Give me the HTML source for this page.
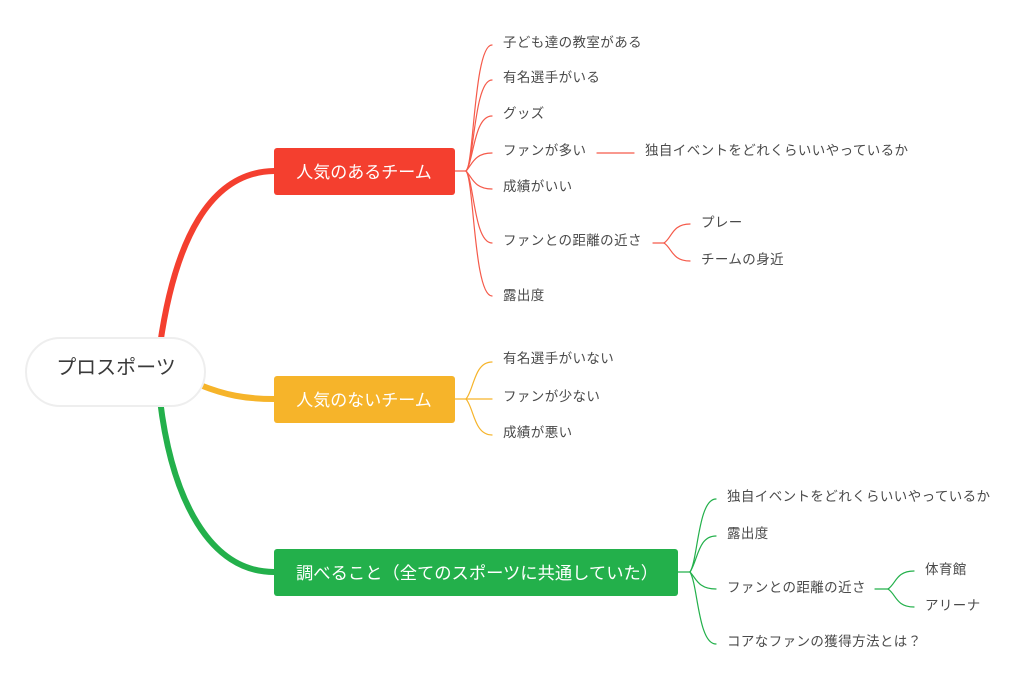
<!DOCTYPE html>
<html><head><meta charset="utf-8"><style>
body{margin:0;background:#fff;}
svg text{font-family:"Liberation Sans","Noto Sans CJK JP",sans-serif;}
</style></head><body>
<svg width="1024" height="690" viewBox="0 0 1024 690" xmlns="http://www.w3.org/2000/svg">
<g fill="none" stroke-linecap="round">
<path d="M160 345 C175 240 210 172 274 171" stroke="#f43f2f" stroke-width="6"/>
<path d="M200 385 C225 395 245 399 274 399" stroke="#f6b42a" stroke-width="6"/>
<path d="M160 400 C172 500 210 572 274 572" stroke="#23b04b" stroke-width="6"/>
<g stroke="#f55a4a" stroke-width="1.2">
<path d="M455 171 H466"/>
<path d="M466 171 C474 165 474 45 492 45"/>
<path d="M466 171 C474 165 474 80 492 80"/>
<path d="M466 171 C474 160 474 116 492 116"/>
<path d="M466 171 C472 165 474 153 492 153"/>
<path d="M466 171 C472 177 474 189 492 189"/>
<path d="M466 171 C474 180 474 243 492 243"/>
<path d="M466 171 C474 180 474 296 492 296"/>
<path d="M597 153 H634"/>
<path d="M653 243 H664"/>
<path d="M664 243 C672 238 672 224 690 224"/>
<path d="M664 243 C672 248 672 261 690 261"/>
</g>
<g stroke="#f6b42a" stroke-width="1.2">
<path d="M455 399 H466"/>
<path d="M466 399 C474 390 474 362 492 362"/>
<path d="M466 399 H492"/>
<path d="M466 399 C474 408 474 435 492 435"/>
</g>
<g stroke="#23b04b" stroke-width="1.2">
<path d="M678 572 H690"/>
<path d="M690 572 C698 560 698 499 716 499"/>
<path d="M690 572 C698 560 698 536 716 536"/>
<path d="M690 572 C696 578 698 589 716 589"/>
<path d="M690 572 C698 585 698 644 716 644"/>
<path d="M875 589 H888"/>
<path d="M888 589 C896 584 896 571 914 571"/>
<path d="M888 589 C896 594 896 607 914 607"/>
</g>
</g>
<rect x="26" y="338" width="179" height="68" rx="34" fill="#fff" stroke="#eeeeee" stroke-width="2"/>
<text x="116" y="374" font-size="20" fill="#3a3a3a" text-anchor="middle">プロスポーツ</text>
<rect x="274" y="148" width="181" height="47" rx="3" fill="#f43f2f"/>
<text x="364" y="178" font-size="17" fill="#fff" text-anchor="middle">人気のあるチーム</text>
<rect x="274" y="376" width="181" height="47" rx="3" fill="#f6b42a"/>
<text x="364" y="406" font-size="17" fill="#fff" text-anchor="middle">人気のないチーム</text>
<rect x="274" y="549" width="404" height="47" rx="3" fill="#23b04b"/>
<text x="296" y="579" font-size="17.3" fill="#fff">調べること（全てのスポーツに共通していた）</text>
<g font-size="13.5" fill="#4a4a4a" letter-spacing="0.4">
<text x="503" y="47">子ども達の教室がある</text>
<text x="503" y="82">有名選手がいる</text>
<text x="503" y="118">グッズ</text>
<text x="503" y="155">ファンが多い</text>
<text x="645" y="155">独自イベントをどれくらいいやっているか</text>
<text x="503" y="191">成績がいい</text>
<text x="503" y="245">ファンとの距離の近さ</text>
<text x="701" y="227">プレー</text>
<text x="701" y="264">チームの身近</text>
<text x="503" y="300">露出度</text>
<text x="503" y="363">有名選手がいない</text>
<text x="503" y="401">ファンが少ない</text>
<text x="503" y="437">成績が悪い</text>
<text x="727" y="501">独自イベントをどれくらいいやっているか</text>
<text x="727" y="538">露出度</text>
<text x="727" y="592">ファンとの距離の近さ</text>
<text x="925" y="574">体育館</text>
<text x="925" y="610">アリーナ</text>
<text x="727" y="646">コアなファンの獲得方法とは？</text>
</g>
</svg>
</body></html>
